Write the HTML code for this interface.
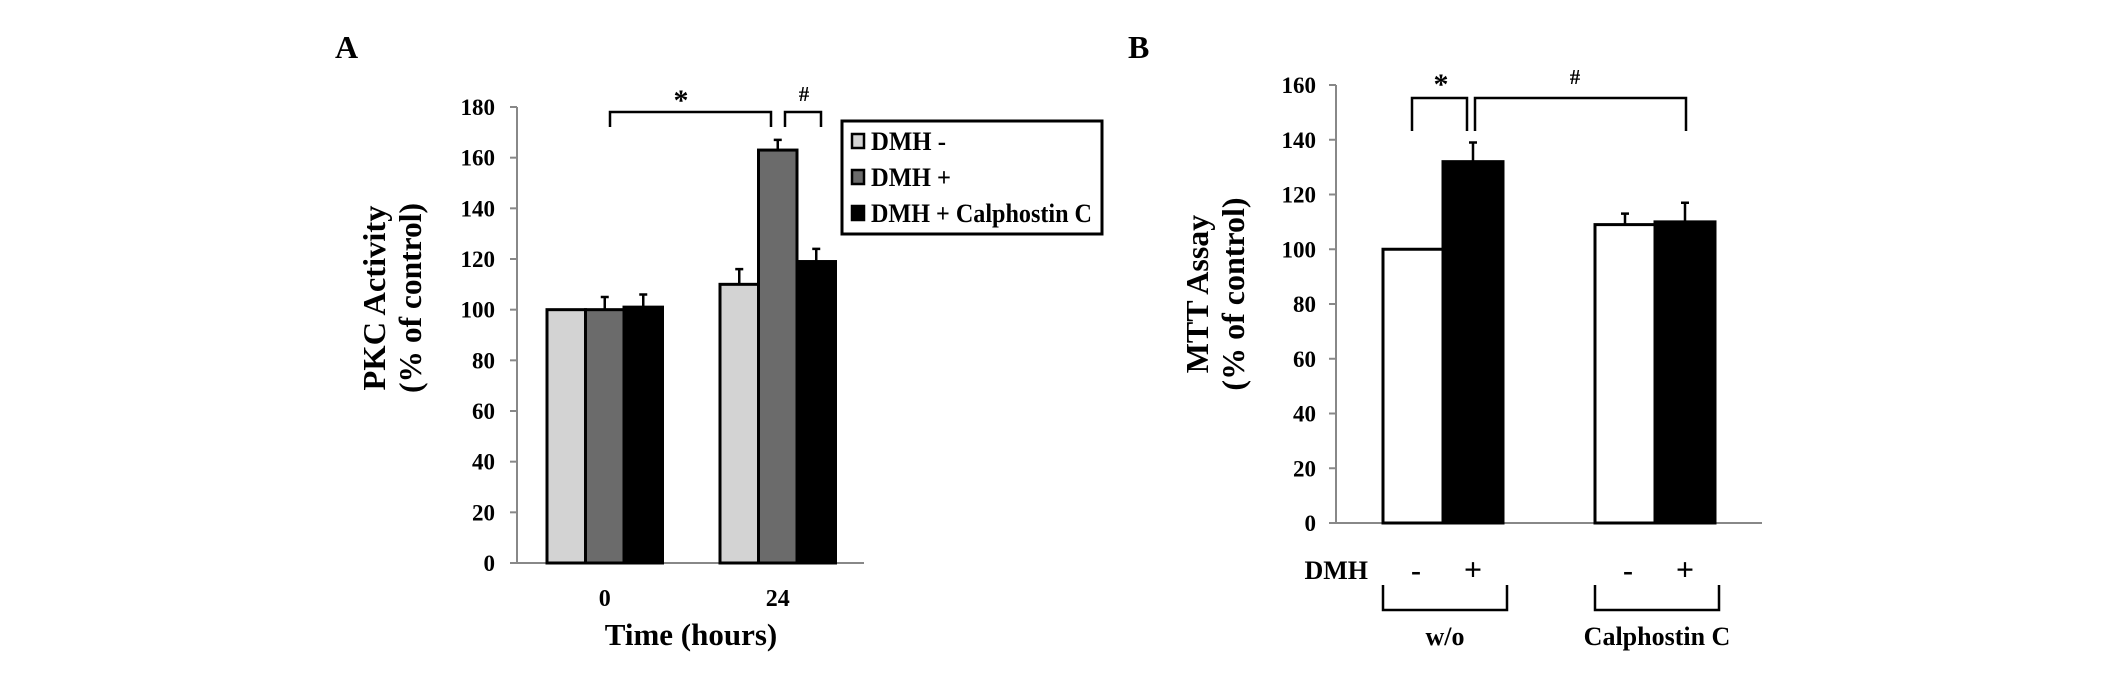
<!DOCTYPE html>
<html><head><meta charset="utf-8"><style>
html,body{margin:0;padding:0;background:#fff;}
svg{display:block;font-family:"Liberation Serif",serif;font-weight:bold;}
</style></head><body>
<svg id="fig" width="2126" height="675" viewBox="0 0 2126 675" xmlns="http://www.w3.org/2000/svg">
<text x="335" y="58" font-size="32">A</text>
<text x="1128" y="58" font-size="32">B</text>
<g id="ga"></g>
<g id="gb"></g>
</svg>
<script>
const aCategories = ["0", "24"];
const aSeriesNames = ["DMH -", "DMH +", "DMH + Calphostin C"];
const aDmhMinus = [100, 110];
const aDmhPlus = [100, 163];
const aDmhCalph = [101, 119];
const aErrMinus = [0, 6];
const aErrPlus = [5, 4];
const aErrCalph = [5, 5];
const aTicks = [0, 20, 40, 60, 80, 100, 120, 140, 160, 180];

const bCategories = ["w/o", "Calphostin C"];
const bDmhMinus = [100, 109];
const bDmhPlus = [132, 110];
const bErrMinus = [0, 4];
const bErrPlus = [7, 7];
const bTicks = [0, 20, 40, 60, 80, 100, 120, 140, 160];

const NS = "http://www.w3.org/2000/svg";
function mk(parent, tag, attrs, text) {
  const e = document.createElementNS(NS, tag);
  for (const k in attrs) e.setAttribute(k, attrs[k]);
  if (text !== undefined) e.textContent = text;
  parent.appendChild(e);
  return e;
}

// ---------- Panel A ----------
const ga = document.getElementById('ga');
const aX0 = 517, aX1 = 864, aYtop = 107, aYbot = 563, aMax = 180;
function ayA(v) { return aYbot - (v / aMax) * (aYbot - aYtop); }
const aGroupStart = [547, 720];
const aBarW = 38.5;
const aColors = ["#d3d3d3", "#6b6b6b", "#000000"];
const aVals = [aDmhMinus, aDmhPlus, aDmhCalph];
const aErrs = [aErrMinus, aErrPlus, aErrCalph];

for (const t of aTicks) {
  const y = ayA(t);
  let l = mk(ga, 'line', {x1: aX0 - 7, x2: aX0, y1: y, y2: y, stroke: '#888', 'stroke-width': 2});
  
  
  let tx = mk(ga, 'text', {x: 495, y: y + 8, 'font-size': 23, 'text-anchor': 'end'}, t);
  
  
}
let axA = mk(ga, 'path', {d: `M${aX0},${aYtop} L${aX0},${aYbot} L${aX1},${aYbot}`, fill: 'none', stroke: '#888', 'stroke-width': 2});



for (let g = 0; g < aCategories.length; g++) {
  for (let s = 0; s < 3; s++) {
    const x = aGroupStart[g] + s * aBarW;
    const v = aVals[s][g];
    const y = ayA(v);
    let r = mk(ga, 'rect', {x: x, y: y, width: aBarW, height: aYbot - y, fill: aColors[s], stroke: '#000', 'stroke-width': 3});
    
    
    const e = aErrs[s][g];
    if (e > 0) {
      const cx = x + aBarW / 2, ye = ayA(v + e);
      let eb = mk(ga, 'path', {d: `M${cx},${y} L${cx},${ye} M${cx - 4},${ye} L${cx + 4},${ye}`, stroke: '#000', 'stroke-width': 2.5, fill: 'none'});
      
      
    }
  }
  const lx = aGroupStart[g] + aBarW * 1.5;
  let xl = mk(ga, 'text', {x: lx, y: 606, 'font-size': 24, 'text-anchor': 'middle'}, aCategories[g]);
  
  
}
let xtA = mk(ga, 'text', {x: 691, y: 645, 'font-size': 31, 'text-anchor': 'middle'}, 'Time (hours)');


let ytA = mk(ga, 'text', {transform: 'translate(385,298) rotate(-90)', 'font-size': 32, 'text-anchor': 'middle'});


mk(ytA, 'tspan', {x: 0, y: 0, textLength: 185, lengthAdjust: 'spacingAndGlyphs'}, 'PKC Activity');
mk(ytA, 'tspan', {x: 0, y: 36, textLength: 190, lengthAdjust: 'spacingAndGlyphs'}, '(% of control)');

// significance brackets A
let bs1 = mk(ga, 'path', {d: 'M610,127 L610,112 L771,112 L771,127', fill: 'none', stroke: '#000', 'stroke-width': 2.5});


let st1 = mk(ga, 'text', {x: 681, y: 110, 'font-size': 30, 'text-anchor': 'middle'}, '*');


let bs2 = mk(ga, 'path', {d: 'M785,127 L785,112 L821,112 L821,127', fill: 'none', stroke: '#000', 'stroke-width': 2.5});


let st2 = mk(ga, 'text', {x: 804, y: 101, 'font-size': 21, 'text-anchor': 'middle'}, '#');



// legend
let lg = mk(ga, 'rect', {x: 842, y: 121, width: 260, height: 113, fill: '#fff', stroke: '#000', 'stroke-width': 3});


const legY = [141, 177, 213];
const legLen = [75, 80, 221];
for (let s = 0; s < 3; s++) {
  let sq = mk(ga, 'rect', {x: 852, y: legY[s] - 7, width: 12, height: 14, fill: aColors[s], stroke: '#000', 'stroke-width': 2.5});
  
  
  let lt = mk(ga, 'text', {x: 871, y: legY[s] + 9, 'font-size': 26, textLength: legLen[s], lengthAdjust: 'spacingAndGlyphs'}, aSeriesNames[s]);
  
  
}

// ---------- Panel B ----------
const gb = document.getElementById('gb');
const bX0 = 1336, bX1 = 1762, bYtop = 85, bYbot = 523, bMax = 160;
function ayB(v) { return bYbot - (v / bMax) * (bYbot - bYtop); }
const bGroupStart = [1383, 1595];
const bBarW = 60;
const bColors = ["#ffffff", "#000000"];
const bVals = [bDmhMinus, bDmhPlus];
const bErrs = [bErrMinus, bErrPlus];

for (const t of bTicks) {
  const y = ayB(t);
  let l = mk(gb, 'line', {x1: bX0 - 7, x2: bX0, y1: y, y2: y, stroke: '#888', 'stroke-width': 2});
  
  
  let tx = mk(gb, 'text', {x: 1316, y: y + 8, 'font-size': 23, 'text-anchor': 'end'}, t);
  
  
}
let axB = mk(gb, 'path', {d: `M${bX0},${bYtop} L${bX0},${bYbot} L${bX1},${bYbot}`, fill: 'none', stroke: '#888', 'stroke-width': 2});



const signs = ["-", "+"];
for (let g = 0; g < bCategories.length; g++) {
  for (let s = 0; s < 2; s++) {
    const x = bGroupStart[g] + s * bBarW;
    const v = bVals[s][g];
    const y = ayB(v);
    let r = mk(gb, 'rect', {x: x, y: y, width: bBarW, height: bYbot - y, fill: bColors[s], stroke: '#000', 'stroke-width': 3});
    
    
    const e = bErrs[s][g];
    if (e > 0) {
      const cx = x + bBarW / 2, ye = ayB(v + e);
      let eb = mk(gb, 'path', {d: `M${cx},${y} L${cx},${ye} M${cx - 4},${ye} L${cx + 4},${ye}`, stroke: '#000', 'stroke-width': 2.5, fill: 'none'});
      
      
    }
    let sg = mk(gb, 'text', {x: x + bBarW / 2 + (s === 0 ? 3 : 0), y: 580, 'font-size': s === 0 ? 30 : 32, 'text-anchor': 'middle'}, signs[s]);
    
    
  }
  const gx = bGroupStart[g], gw = bBarW * 2 + 4;
  let gbr = mk(gb, 'path', {d: `M${gx},585 L${gx},610 L${gx + gw},610 L${gx + gw},585`, fill: 'none', stroke: '#000', 'stroke-width': 2.5});
  
  
  let gl = mk(gb, 'text', {x: gx + gw / 2, y: 645, 'font-size': 26, 'text-anchor': 'middle'}, bCategories[g]);
  
  
}
let dmh = mk(gb, 'text', {x: 1368, y: 579, 'font-size': 26, 'text-anchor': 'end'}, 'DMH');


let ytB = mk(gb, 'text', {transform: 'translate(1208,294) rotate(-90)', 'font-size': 32, 'text-anchor': 'middle'});


mk(ytB, 'tspan', {x: 0, y: 0}, 'MTT Assay');
mk(ytB, 'tspan', {x: 0, y: 36}, '(% of control)');

let bb1 = mk(gb, 'path', {d: 'M1412,131 L1412,98 L1467,98 L1467,131', fill: 'none', stroke: '#000', 'stroke-width': 2.5});


let bst = mk(gb, 'text', {x: 1441, y: 94, 'font-size': 30, 'text-anchor': 'middle'}, '*');


let bb2 = mk(gb, 'path', {d: 'M1475,131 L1475,98 L1686,98 L1686,131', fill: 'none', stroke: '#000', 'stroke-width': 2.5});


let bh = mk(gb, 'text', {x: 1575, y: 84, 'font-size': 21, 'text-anchor': 'middle'}, '#');


</script>
</body></html>
